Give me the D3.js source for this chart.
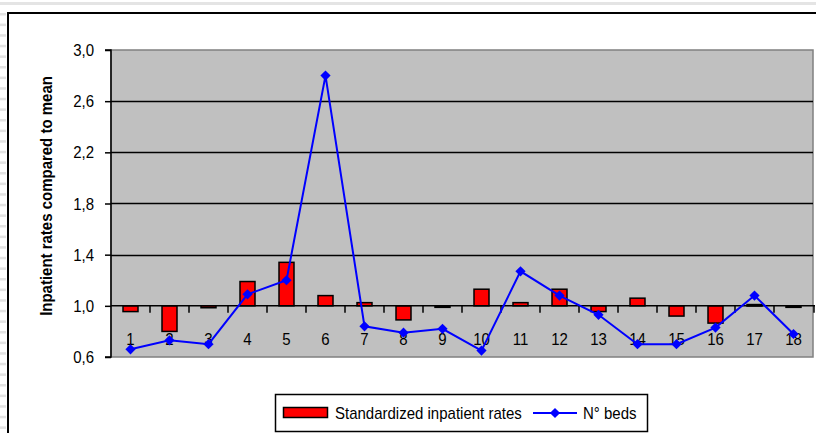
<!DOCTYPE html>
<html>
<head>
<meta charset="utf-8">
<script src="https://cdn.jsdelivr.net/npm/d3@7"></script>
<style>
  html, body { margin: 0; padding: 0; background: #fff; }
  svg { display: block; }
  text { font-family: "Liberation Sans", Arial, sans-serif; }
</style>
</head>
<body>
<svg id="chart" width="816" height="433"></svg>
<script>
const categories = ["1","2","3","4","5","6","7","8","9","10","11","12","13","14","15","16","17","18"];
const inpatientRates = [0.955, 0.80, 0.985, 1.19, 1.34, 1.08, 1.025, 0.89, 0.99, 1.13, 1.025, 1.13, 0.955, 1.06, 0.92, 0.865, 1.01, 0.99];
const beds = [0.66, 0.73, 0.70, 1.09, 1.20, 2.80, 0.84, 0.79, 0.82, 0.65, 1.27, 1.08, 0.93, 0.70, 0.70, 0.83, 1.08, 0.78];
const yTicks = [0.6, 1.0, 1.4, 1.8, 2.2, 2.6, 3.0];
const yTitle = "Inpatient rates compared to mean";
const legendLabels = ["Standardized inpatient rates", "N° beds"];

const svg = d3.select("#chart");
const W = 816, H = 433;
const plot = {left: 111, right: 813, top: 50, bottom: 357};
const SY = 1.13; // vertical stretch of text glyphs

// background decoration: top band and left stripes
svg.append("rect").attr("x", 0).attr("y", 2).attr("width", W).attr("height", 3).attr("fill", "#e4e4e4");
for (let yy = 13; yy < H; yy += 10.6) {
  svg.append("rect").attr("x", 0).attr("y", yy).attr("width", 6).attr("height", 2.5).attr("fill", "#e2e2e2");
}
// outer frame
svg.append("path").attr("d", `M8,${H+5} L8,13 L${W+5},13`).attr("fill", "none").attr("stroke", "#000").attr("stroke-width", 2);

const x = d3.scaleBand().domain(categories).range([plot.left, plot.right]).paddingInner(0).paddingOuter(0);
const y = d3.scaleLinear().domain([0.6, 3.0]).range([plot.bottom, plot.top]);

// plot area
svg.append("rect").attr("x", plot.left).attr("y", plot.top)
  .attr("width", plot.right - plot.left).attr("height", plot.bottom - plot.top)
  .attr("fill", "#c0c0c0").attr("stroke", "#808080").attr("stroke-width", 1.5);

// gridlines
svg.append("g").selectAll("line").data(yTicks.filter(t => t > 1.0 && t < 3.0)).join("line")
  .attr("x1", plot.left).attr("x2", plot.right)
  .attr("y1", d => Math.round(y(d)) + 0.5).attr("y2", d => Math.round(y(d)) + 0.5)
  .attr("stroke", "#000").attr("stroke-width", 1.5);

// y axis
const yAxis = d3.axisLeft(y).tickValues(yTicks).tickSize(6).tickPadding(12)
  .tickFormat(d => d3.format(".1f")(d).replace(".", ","));
const gy = svg.append("g").attr("transform", `translate(${plot.left},0)`).call(yAxis);
gy.select(".domain").attr("stroke", "#000").attr("stroke-width", 1.5).attr("d", `M-6,${plot.top}H0V${plot.bottom}H-6`);
gy.selectAll(".tick line").attr("stroke", "#000").attr("stroke-width", 1.5);
gy.selectAll(".tick text").attr("font-size", 15).attr("fill", "#000")
  .attr("font-family", "'Liberation Sans', Arial, sans-serif")
  .attr("x", null).attr("dy", null).attr("y", 0)
  .attr("transform", `translate(-17,5.5) scale(1,${SY})`);

// bars
const bw = 15;
svg.append("g").selectAll("rect").data(inpatientRates).join("rect")
  .attr("x", (d, i) => x(categories[i]) + x.bandwidth() / 2 - bw / 2)
  .attr("width", bw)
  .attr("y", d => Math.min(y(d), y(1.0)))
  .attr("height", d => Math.max(1.5, Math.abs(y(d) - y(1.0))))
  .attr("fill", "#ff0000").attr("stroke", "#000").attr("stroke-width", 1.5);

// x axis at 1.0
const y1 = y(1.0);
const xAxis = d3.axisBottom(x).tickSize(0);
const gx = svg.append("g").attr("transform", `translate(0,${y1})`).call(xAxis);
gx.select(".domain").attr("stroke", "#000").attr("stroke-width", 1.5).attr("d", `M${plot.left},0H${plot.right + 2}`);
gx.selectAll(".tick text").attr("font-size", 15).attr("fill", "#000")
  .attr("font-family", "'Liberation Sans', Arial, sans-serif")
  .attr("y", 0).attr("dy", null)
  .attr("transform", `translate(0,39.5) scale(1,${SY})`);
// boundary ticks
const bounds = categories.map(c => x(c)).slice(1).concat([plot.right + 1]);
gx.append("g").selectAll("line").data(bounds).join("line")
  .attr("x1", d => d).attr("x2", d => d).attr("y1", 0).attr("y2", 7)
  .attr("stroke", "#000").attr("stroke-width", 1.5);

// line series
const cx = (i) => x(categories[i]) + x.bandwidth() / 2;
const line = d3.line().x((d, i) => cx(i)).y(d => y(d));
svg.append("path").datum(beds).attr("d", line)
  .attr("fill", "none").attr("stroke", "#0000ff").attr("stroke-width", 2);
svg.append("g").selectAll("path").data(beds).join("path")
  .attr("transform", (d, i) => `translate(${cx(i)},${y(d)}) rotate(45)`)
  .attr("d", d3.symbol().type(d3.symbolSquare).size(52))
  .attr("fill", "#0000ff");

// y title
svg.append("text")
  .attr("transform", `translate(52,196) rotate(-90) scale(1,1.05)`)
  .attr("text-anchor", "middle")
  .attr("font-size", 15).attr("font-weight", "bold").attr("fill", "#000")
  .text(yTitle);

// legend
const lg = svg.append("g");
lg.append("rect").attr("x", 275.5).attr("y", 394.5).attr("width", 372).attr("height", 37)
  .attr("fill", "#fff").attr("stroke", "#000").attr("stroke-width", 1.5);
lg.append("rect").attr("x", 283.5).attr("y", 407.5).attr("width", 44).attr("height", 10)
  .attr("fill", "#ff0000").attr("stroke", "#000").attr("stroke-width", 1.5);
lg.append("text").attr("transform", `translate(335,419) scale(1,${SY})`).attr("font-size", 15).attr("fill", "#000").text(legendLabels[0]);
lg.append("line").attr("x1", 533).attr("x2", 577).attr("y1", 413).attr("y2", 413)
  .attr("stroke", "#0000ff").attr("stroke-width", 2);
lg.append("path").attr("transform", "translate(555,413) rotate(45)")
  .attr("d", d3.symbol().type(d3.symbolSquare).size(52)).attr("fill", "#0000ff");
lg.append("text").attr("transform", `translate(583,419) scale(1,${SY})`).attr("font-size", 15).attr("fill", "#000").text(legendLabels[1]);
</script>
</body>
</html>
